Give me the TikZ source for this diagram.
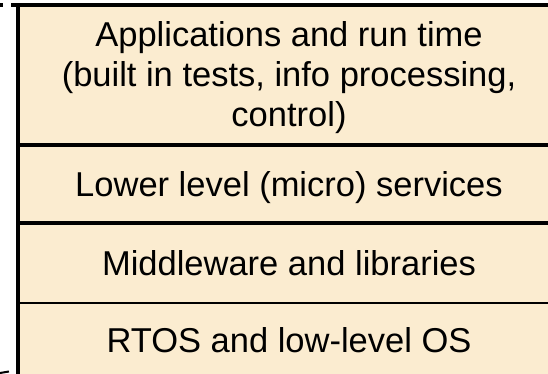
\documentclass[tikz,border=0pt]{standalone}
\usepackage{fontspec}
\setmainfont{Liberation Sans}
\definecolor{layerfill}{RGB}{251,236,208}
\begin{document}
\begin{tikzpicture}[x=1pt,y=-1pt,
  layertext/.style={font=\fontsize{34.5}{40}\selectfont, align=center, inner sep=0pt, text=black},
  edge/.style={line width=3.2pt, draw=black},
  thinedge/.style={line width=2.4pt, draw=black}]
  \useasboundingbox (0,0) rectangle (548,374);
  \begin{scope}
    \clip (0,0) rectangle (548,374);
    % stack background
    \fill[layerfill] (18,5) rectangle (562,390);
    % outer frame (top and left side)
    \draw[edge] (18,390) -- (18,5) -- (562,5);
    % dividers between the layers
    \draw[edge] (18,145) -- (562,145);
    \draw[edge] (18,223) -- (562,223);
    \draw[thinedge] (18,303) -- (562,303);
    % stray marks at the left edge
    \draw[edge] (0,5) -- (3,5);
    \draw[edge] (11,5) -- (18,5);
    \draw[line width=2pt] (0,373) -- (9,371.5);
  \end{scope}
  \node[layertext] (apps) at (289,78) {Applications and run time\\(built in tests, info processing,\\control)};
  \node[layertext, anchor=base] (micro) at (289,196) {Lower level (micro) services};
  \node[layertext, anchor=base] (mid) at (289,275) {Middleware and libraries};
  \node[layertext, anchor=base] (rtos) at (289,352) {RTOS and low-level OS};
\end{tikzpicture}
\end{document}
